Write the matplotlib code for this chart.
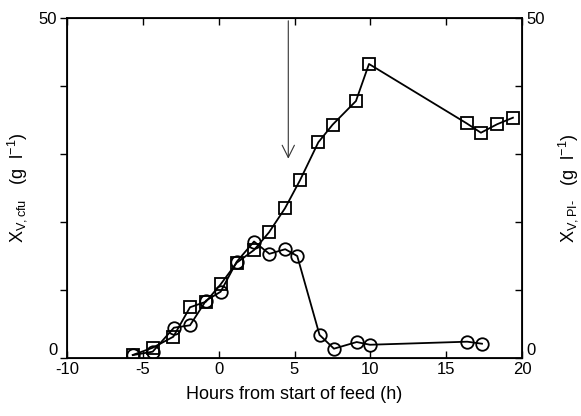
import numpy as np
import matplotlib
matplotlib.use("Agg")
import matplotlib.pyplot as plt

plt.rcParams['font.family'] = ['Liberation Sans', 'DejaVu Sans']
plt.rcParams['mathtext.fontset'] = 'custom'
plt.rcParams['mathtext.rm'] = 'Liberation Sans'
plt.rcParams['mathtext.it'] = 'Liberation Sans'

# cfu data (squares)
t_cfu = [-5.67, -4.35, -2.99, -1.89, -0.84, 0.13, 1.19, 2.33, 3.32, 4.37,
         5.36, 6.57, 7.51, 9.05, 9.91, 16.35, 17.29, 18.35, 19.40]
x_cfu = [0.44, 1.51, 3.13, 7.46, 8.28, 10.84, 14.01, 15.88, 18.48, 22.01,
         26.13, 31.72, 34.31, 37.79, 43.24, 34.51, 33.13, 34.37, 35.34]

# PI- data (circles)
t_pi = [-5.63, -4.35, -2.95, -1.89, -0.84, 0.13, 1.19, 2.33, 3.34, 4.39,
        5.18, 6.65, 7.60, 9.10, 9.97, 16.39, 17.36]
x_pi = [0.44, 0.93, 4.46, 4.81, 8.43, 9.75, 14.16, 17.13, 15.32, 16.0,
        15.0, 3.4, 1.37, 2.35, 1.95, 2.4, 2.1]

arrow_t = 4.59
arrow_tip = 28.9

fig = plt.figure(figsize=(5.81, 4.16), dpi=100)
ax = fig.add_axes([0.1153, 0.1394, 0.7832, 0.8173])

ax.plot(t_cfu, x_cfu, '-', color='black', lw=1.3, marker='s', ms=9,
        mfc='none', mec='black', mew=1.3)
ax.plot(t_pi, x_pi, '-', color='black', lw=1.3, marker='o', ms=9,
        mfc='none', mec='black', mew=1.3)

ax.annotate('', xy=(arrow_t, arrow_tip), xytext=(arrow_t, 50),
            arrowprops=dict(arrowstyle='->', color='#333333', lw=0.8,
                            mutation_scale=22))

ax.set_xlim(-10, 20)
ax.set_ylim(0, 50)
ax.set_xticks([-10, -5, 0, 5, 10, 15, 20])
ax.set_xticklabels(['-10', '-5', '0', '5', '10', '15', '20'])
ax.set_yticks([0, 10, 20, 30, 40, 50])
ax.set_yticklabels(['0', '', '', '', '', '50'])
ax.tick_params(axis='x', direction='in', top=True, length=5, width=1,
               labelsize=12, pad=3)
ax.tick_params(axis='y', direction='out', length=5, width=1, labelsize=12, pad=2)
for s in ax.spines.values():
    s.set_linewidth(1.3)
ax.get_yticklabels()[0].set_va('bottom')

ax.set_xlabel('Hours from start of feed (h)', fontsize=13, labelpad=6)
ax.set_ylabel(r'X$_{\mathrm{V,cfu}}$   (g  l$^{-1}$)', fontsize=13)
ax.yaxis.set_label_coords(-0.083, 0.5)

ax2 = ax.twinx()
ax2.set_ylim(0, 50)
ax2.set_yticks([0, 10, 20, 30, 40, 50])
ax2.set_yticklabels(['0', '', '', '', '', '50'])
ax2.tick_params(axis='y', direction='in', length=5, width=1, labelsize=12, pad=3)
ax2.get_yticklabels()[0].set_va('bottom')
ax2.set_ylabel('X$_{\\mathrm{V,PI\u2010}}$   (g  l$^{-1}$)', fontsize=13,
               rotation=90, va='center')
ax2.yaxis.set_label_coords(1.101, 0.5)

fig.savefig('out.png', dpi=100)
